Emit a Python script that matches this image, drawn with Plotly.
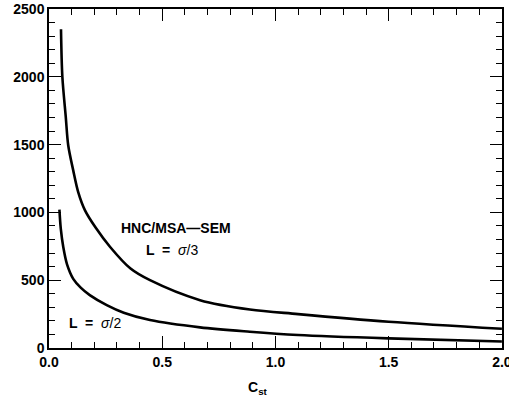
import plotly.graph_objects as go

# L = sigma/3 curve
c_third = [0.053, 0.059, 0.074, 0.085, 0.107, 0.129, 0.159, 0.205, 0.27, 0.36, 0.446, 0.667, 0.887, 1.1, 1.5, 2.0]
v_third = [2350, 2000, 1705, 1493, 1310, 1150, 1015, 890, 745, 586, 500, 353, 284, 250, 194, 142]

# L = sigma/2 curve
c_half = [0.046, 0.052, 0.063, 0.08, 0.107, 0.14, 0.18, 0.255, 0.33, 0.446, 0.667, 0.887, 1.1, 1.5, 2.0]
v_half = [1020, 880, 745, 615, 510, 445, 390, 316, 260, 206, 152, 120, 96, 71, 48]

x_ticks = [0.0, 0.5, 1.0, 1.5, 2.0]
x_ticklabels = ["0.0", "0.5", "1.0", "1.5", "2.0"]
y_ticks = [0, 500, 1000, 1500, 2000, 2500]

FAM = "Liberation Sans, Arial, sans-serif"
XR = [0, 2.0005]
YR = [0, 2500]

fig = go.Figure()
for cx, vy in [(c_third, v_third), (c_half, v_half)]:
    fig.add_trace(go.Scatter(x=cx, y=vy, mode="lines",
                             line=dict(color="black", width=2.6, shape="spline", smoothing=0.9),
                             showlegend=False, hoverinfo="skip"))

tickfont = dict(family=FAM, size=14, color="black")
common = dict(showline=True, linecolor="black", linewidth=1.5,
              ticks="inside", ticklen=12, tickwidth=1.2, tickcolor="black",
              showgrid=False, zeroline=False, automargin=False, tickfont=tickfont,
              ticklabeloverflow="allow")

fig.update_layout(
    xaxis=dict(range=XR, tickvals=x_ticks, ticktext=["<b>%s</b>" % t for t in x_ticklabels],
               minor=dict(dtick=0.1, ticks="inside", ticklen=6, tickwidth=1, tickcolor="black"),
               **common),
    yaxis=dict(range=YR, tickvals=y_ticks, ticktext=["<b>%d</b>" % t for t in y_ticks],
               minor=dict(dtick=100, ticks="inside", ticklen=6, tickwidth=1, tickcolor="black"),
               **common),
    xaxis2=dict(range=XR, overlaying="x", side="top", tickvals=x_ticks, showticklabels=False,
                minor=dict(dtick=0.1, ticks="inside", ticklen=6, tickwidth=1, tickcolor="black"),
                **common),
    yaxis2=dict(range=YR, overlaying="y", side="right", tickvals=y_ticks, showticklabels=False,
                minor=dict(dtick=100, ticks="inside", ticklen=6, tickwidth=1, tickcolor="black"),
                **common),
)
# invisible trace so the mirrored axes are drawn
fig.add_trace(go.Scatter(x=[None], y=[None], xaxis="x2", yaxis="y2", showlegend=False, hoverinfo="skip"))

PLOT_L, PLOT_W, PLOT_T, PLOT_H = 49, 453, 9, 339

def px_to_paper(px, py):
    return (px - PLOT_L) / PLOT_W, 1 - (py - PLOT_T) / PLOT_H

annfont = dict(family=FAM, size=14, color="black")
for text, (px, py) in [("<b>HNC/MSA—SEM</b>", (176, 228)),
                       ("<b>L  =  </b><i>σ</i>/3", (172, 250)),
                       ("<b>L  =  </b><i>σ</i>/2", (95, 323)),
                       ("<b>C<sub>st</sub></b>", (258, 388))]:
    ax, ay = px_to_paper(px, py)
    fig.add_annotation(x=ax, y=ay, xref="paper", yref="paper", text=text,
                       showarrow=False, font=annfont, xanchor="center", yanchor="middle")

fig.update_layout(width=509, height=402, margin=dict(l=PLOT_L, r=509 - PLOT_L - PLOT_W, t=PLOT_T, b=402 - PLOT_T - PLOT_H),
                  plot_bgcolor="white", paper_bgcolor="white", font=dict(family=FAM, size=14, color="black"))
fig.write_html("out.html", config={"displayModeBar": False},
               post_script="document.body.style.margin='0';document.body.style.overflow='hidden';")
